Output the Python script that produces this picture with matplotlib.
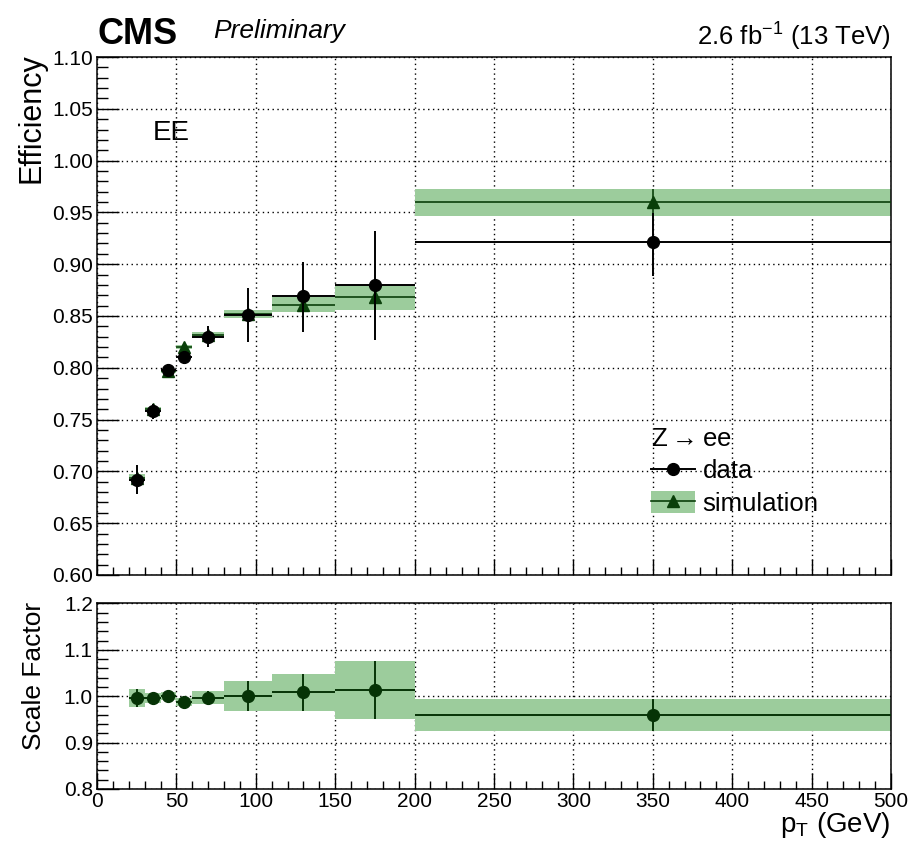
import numpy as np
import matplotlib.pyplot as plt
from matplotlib.lines import Line2D
from matplotlib.patches import Patch
from matplotlib.ticker import MultipleLocator, FormatStrFormatter

plt.rcParams['font.family'] = ['Liberation Sans', 'DejaVu Sans']
plt.rcParams['mathtext.fontset'] = 'custom'
plt.rcParams['mathtext.rm'] = 'Liberation Sans'

# pT bins (GeV)
edges = [20, 30, 40, 50, 60, 80, 110, 150, 200, 500]

# efficiency in data
eff_data = [0.692, 0.758, 0.798, 0.810, 0.830, 0.851, 0.869, 0.880, 0.921]
eff_data_lo = [0.014, 0.007, 0.003, 0.004, 0.010, 0.026, 0.034, 0.053, 0.032]
eff_data_hi = [0.014, 0.007, 0.003, 0.004, 0.010, 0.026, 0.033, 0.052, 0.028]

# efficiency in simulation
eff_mc = [0.694, 0.760, 0.797, 0.820, 0.832, 0.852, 0.861, 0.868, 0.960]
eff_mc_err = [0.003, 0.002, 0.002, 0.002, 0.003, 0.004, 0.007, 0.012, 0.013]

# scale factor data / simulation
sf = [0.996, 0.996, 1.001, 0.987, 0.997, 1.000, 1.009, 1.014, 0.959]
sf_err = [0.020, 0.011, 0.009, 0.009, 0.014, 0.032, 0.040, 0.063, 0.035]

band_col = '#9ccc9c'
mc_col = '#0a3f0a'
sf_col = '#063306'

edges = np.array(edges)
centers = 0.5 * (edges[1:] + edges[:-1])
widths = edges[1:] - edges[:-1]
eff_data = np.array(eff_data)
eff_mc = np.array(eff_mc)
eff_mc_err = np.array(eff_mc_err)
sf = np.array(sf)
sf_err = np.array(sf_err)

fig = plt.figure(figsize=(9.1, 8.56), dpi=100)
ax1 = fig.add_axes([0.1066, 0.3283, 0.8725, 0.6051])
ax2 = fig.add_axes([0.1066, 0.0783, 0.8725, 0.2167])

# ---- top panel: efficiencies
ax1.bar(centers, 2 * eff_mc_err, bottom=eff_mc - eff_mc_err, width=widths,
        color=band_col, edgecolor='none', zorder=2)
ax1.errorbar(centers, eff_mc, xerr=widths / 2, yerr=eff_mc_err, fmt='^',
             color=mc_col, ms=9, elinewidth=1.2, capsize=0, zorder=3)
ax1.errorbar(centers, eff_data, xerr=widths / 2, yerr=[eff_data_lo, eff_data_hi],
             fmt='o', color='black', ms=8.5, elinewidth=1.4, capsize=0, zorder=4)

ax1.set_xlim(0, 500)
ax1.set_ylim(0.60, 1.10)
ax1.yaxis.set_major_locator(MultipleLocator(0.05))
ax1.yaxis.set_minor_locator(MultipleLocator(0.01))
ax1.yaxis.set_major_formatter(FormatStrFormatter('%.2f'))
ax1.tick_params(axis='x', labelbottom=False)

# ---- bottom panel: scale factor
ax2.bar(centers, 2 * sf_err, bottom=sf - sf_err, width=widths,
        color=band_col, edgecolor='none', zorder=2)
ax2.errorbar(centers, sf, xerr=widths / 2, yerr=sf_err, fmt='o', color=sf_col,
             ms=8.5, elinewidth=1.4, capsize=0, zorder=3)
ax2.set_xlim(0, 500)
ax2.set_ylim(0.8, 1.2)
ax2.yaxis.set_major_locator(MultipleLocator(0.1))
ax2.yaxis.set_minor_locator(MultipleLocator(0.02))
ax2.yaxis.set_major_formatter(FormatStrFormatter('%.1f'))

for ax in (ax1, ax2):
    ax.set_axisbelow(True)
    ax.xaxis.set_major_locator(MultipleLocator(50))
    ax.xaxis.set_minor_locator(MultipleLocator(10))
    ax.grid(True, which='major', color='black', linestyle=(0, (1, 2.5)), linewidth=1.0)
    ax.tick_params(which='both', direction='in', top=False, right=False,
                   labelsize=15, width=1.0)
    ax.tick_params(axis='x', which='major', length=11.5, pad=2)
    ax.tick_params(axis='x', which='minor', length=5.8)
    ax.tick_params(axis='y', which='major', length=16, pad=3)
    ax.tick_params(axis='y', which='minor', length=8)
    for s in ax.spines.values():
        s.set_linewidth(1.1)

# axis titles
fig.text(0.035, 0.938, 'Efficiency', rotation=90, ha='center', va='top', fontsize=22)
fig.text(0.037, 0.297, 'Scale Factor', rotation=90, ha='center', va='top', fontsize=19)
fig.text(0.979, 1 - 825 / 856, r'$\mathregular{p_{T}}$ (GeV)', ha='right', va='center',
         fontsize=20)

# header
fig.text(0.1066, 1 - 44 / 856, 'CMS', fontsize=26, fontweight='bold', ha='left',
         va='baseline')
fig.text(0.234, 1 - 38 / 856, 'Preliminary', fontsize=19, style='italic', ha='left',
         va='baseline')
fig.text(0.979, 1 - 45 / 856, r'2.6 fb$^{\mathregular{-1}}$ (13 TeV)', fontsize=18.5,
         ha='right', va='baseline')

ax1.text(0.0705, 0.853, 'EE', transform=ax1.transAxes, fontsize=20, ha='left',
         va='center')

# legend
h_data = Line2D([], [], color='black', marker='o', ms=8.5, lw=1.4)
h_mc = (Patch(facecolor=band_col, edgecolor='none'),
        Line2D([], [], color=mc_col, marker='^', ms=9, lw=1.2))
leg = ax1.legend([h_data, h_mc], ['data', 'simulation'], title=r'Z$\rightarrow$ee',
                 loc='upper left', bbox_to_anchor=(0.682, 0.31), frameon=False,
                 fontsize=18.5, title_fontsize=18.5, borderpad=0, labelspacing=0.3,
                 handlelength=1.7, handleheight=0.9, handletextpad=0.3,
                 alignment='left')

fig.savefig('out.png', dpi=100)
